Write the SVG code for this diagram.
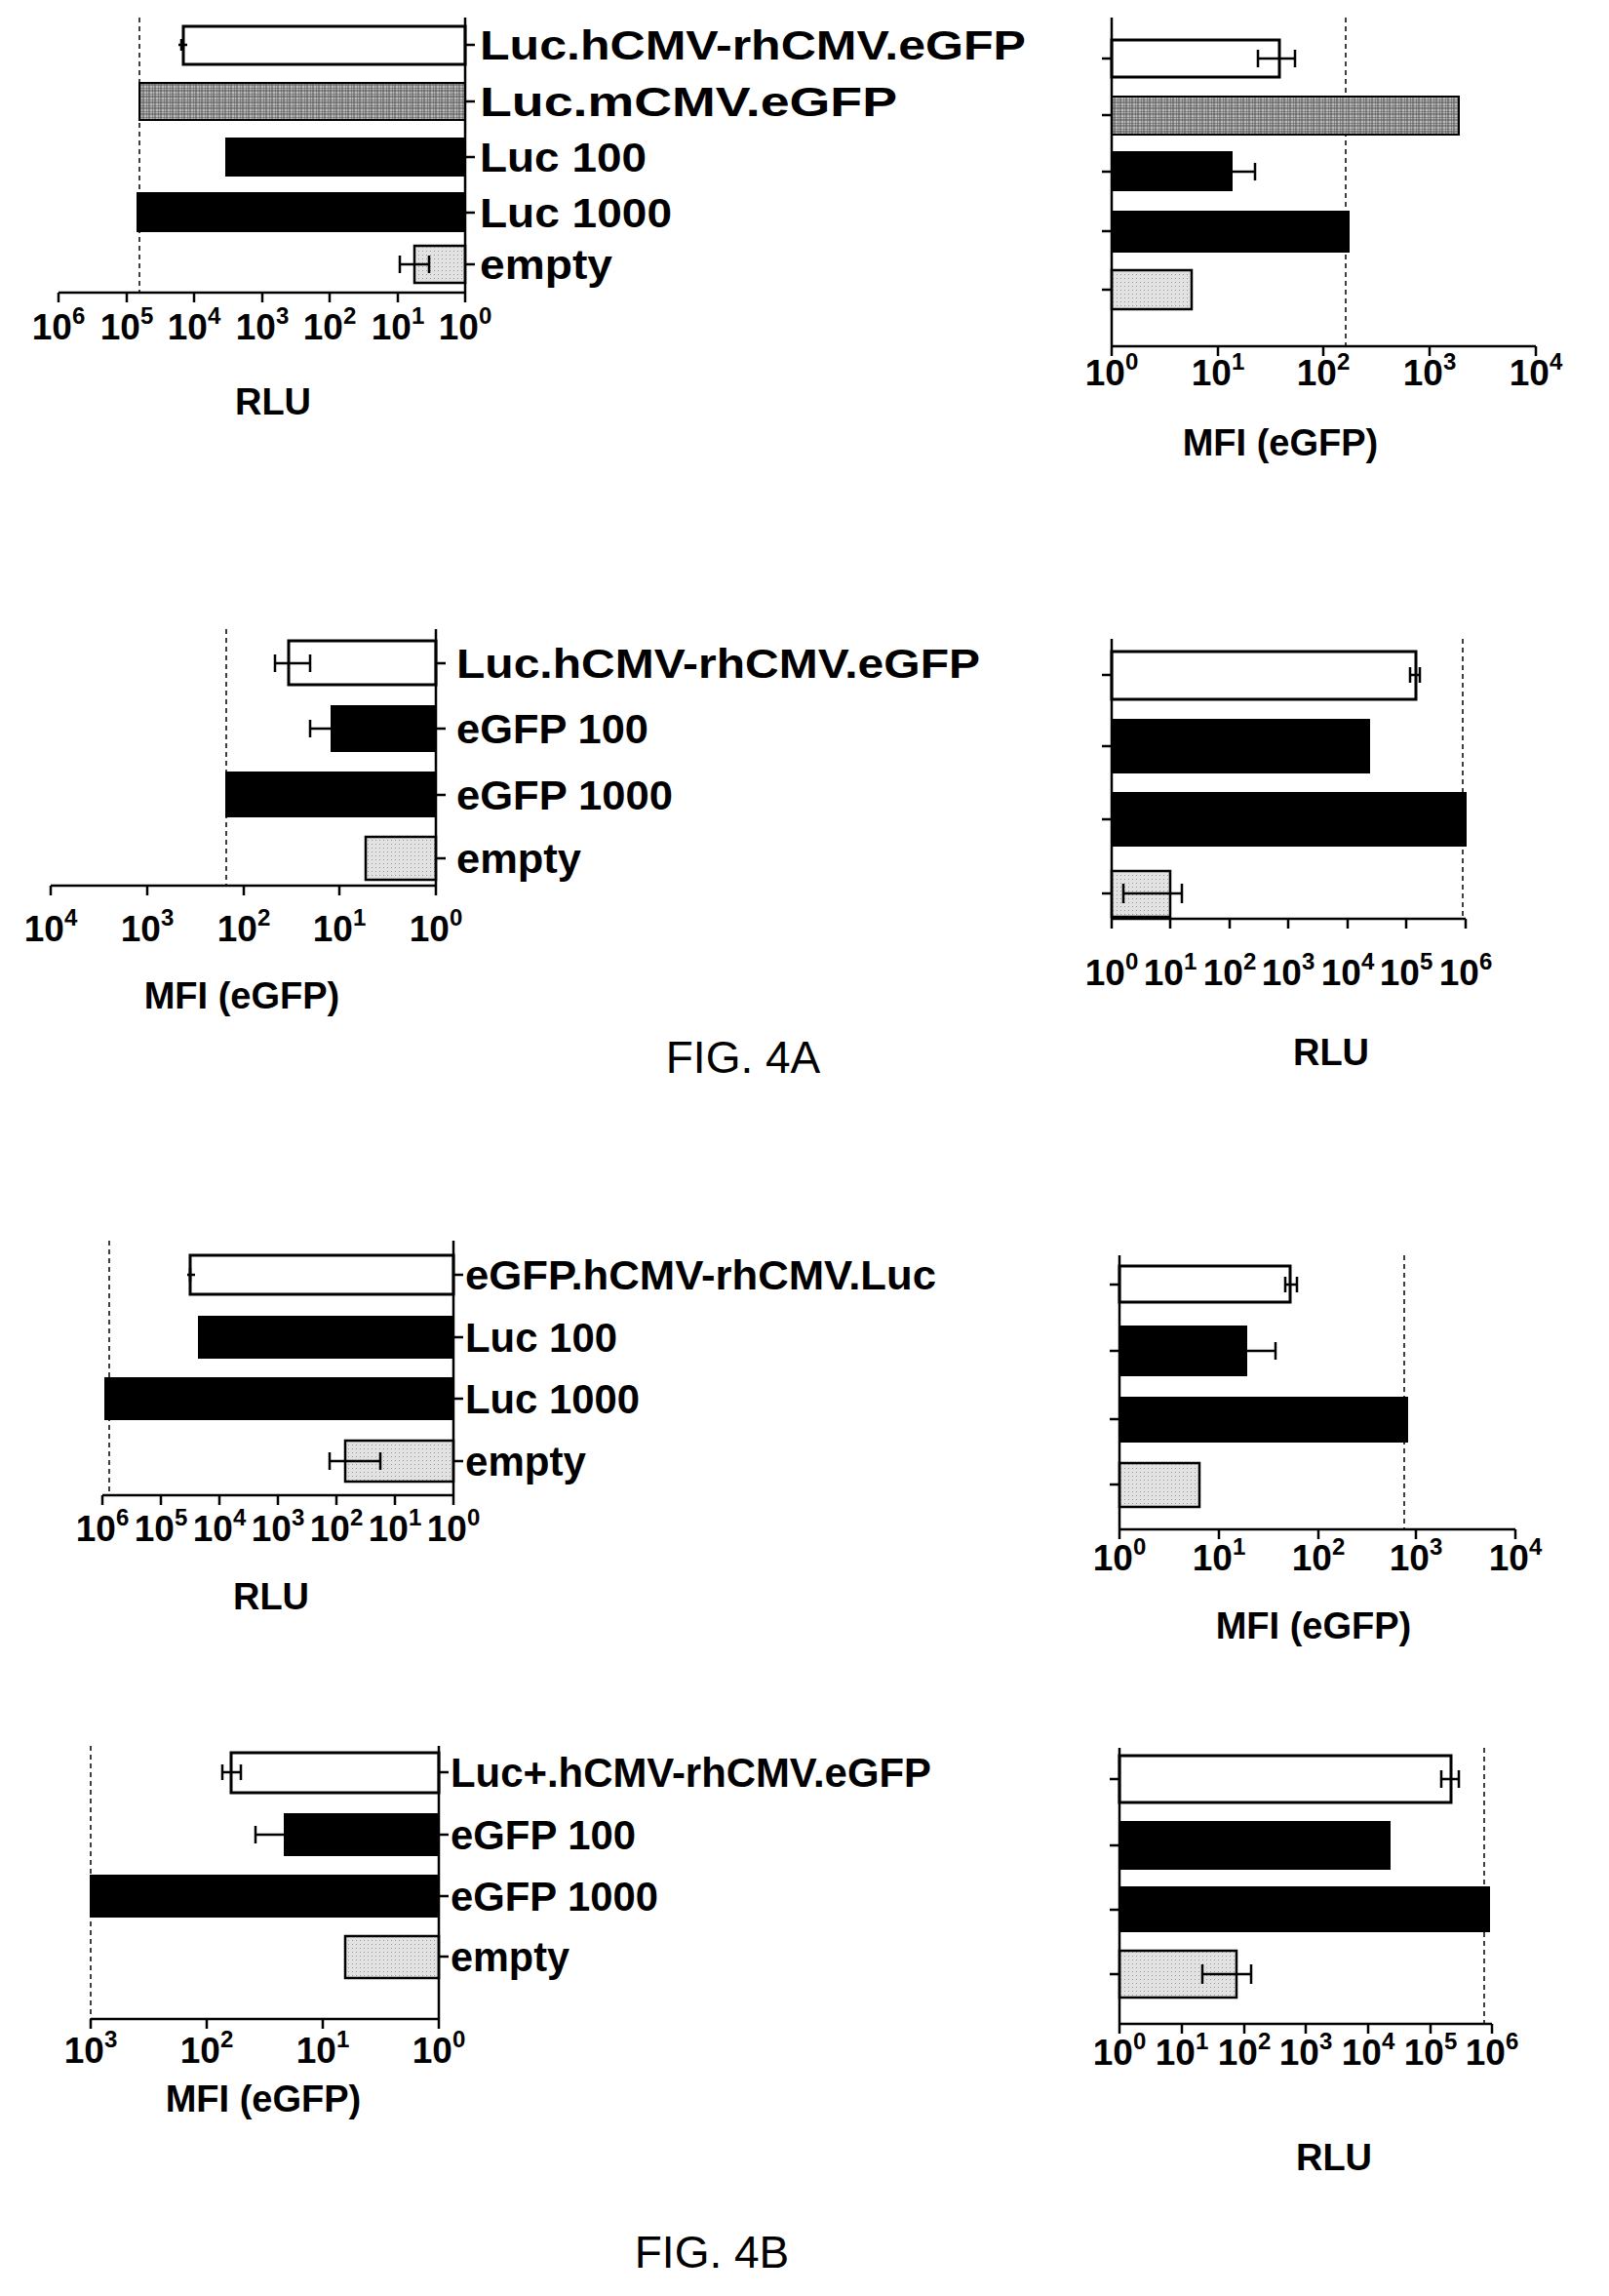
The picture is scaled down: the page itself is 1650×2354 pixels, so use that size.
<svg xmlns="http://www.w3.org/2000/svg" width="1650" height="2354" viewBox="0 0 1650 2354">
<defs>
<pattern id="hatch" width="6" height="6" patternUnits="userSpaceOnUse"><rect width="6" height="6" fill="#bbb"/><path d="M0 0H6M0 3H6M0 0V6M3 0V6" stroke="#555" stroke-width="1"/></pattern>
<pattern id="dots" width="4" height="4" patternUnits="userSpaceOnUse"><rect width="4" height="4" fill="#e2e2e2"/><rect x="1" y="1" width="1" height="1" fill="#999"/></pattern>
</defs>
<style>
.ax{stroke:#000;stroke-width:2.5;fill:none}
.dash{stroke:#000;stroke-width:1.5;stroke-dasharray:5 4;fill:none}
.w{fill:#fff;stroke:#000;stroke-width:3}
.b{fill:#000;stroke:#000;stroke-width:2}
.h{fill:url(#hatch);stroke:#000;stroke-width:2}
.g{fill:url(#dots);stroke:#000;stroke-width:2.5}
.err{stroke:#000;stroke-width:2.5;fill:none}
.lab{font-family:"Liberation Sans",Arial,sans-serif;font-weight:bold;font-size:42px}
.tk{font-family:"Liberation Sans",Arial,sans-serif;font-weight:bold;font-size:37px;text-anchor:middle}
.sup{font-size:24px}
.tt{font-family:"Liberation Sans",Arial,sans-serif;font-weight:bold;font-size:38px;text-anchor:middle}
.fig{font-family:"Liberation Sans",Arial,sans-serif;font-size:46px;text-anchor:middle}
</style>

<g id="p1">
<line class="dash" x1="143" y1="18" x2="143" y2="300"/>
<rect class="w" x="188" y="27" width="289" height="39"/><path class="err" d="M183 46H192M186 40V52"/>
<rect class="h" x="143" y="85" width="334" height="38"/>
<rect class="b" x="232" y="142" width="245" height="38"/>
<rect class="b" x="141" y="198" width="336" height="39"/>
<rect class="g" x="425" y="252" width="52" height="38"/><path class="err" d="M410 271H440M410 262V280M440 262V280"/>
<path class="ax" d="M477 18V300M60 300H477M477 46h10M477 104h10M477 161h10M477 218h10M477 271h10M60 300v10M130 300v10M199 300v10M269 300v10M338 300v10M408 300v10M477 300v10"/>
<text class="lab" x="492" y="61" textLength="560" lengthAdjust="spacingAndGlyphs">Luc.hCMV-rhCMV.eGFP</text>
<text class="lab" x="492" y="119" textLength="428" lengthAdjust="spacingAndGlyphs">Luc.mCMV.eGFP</text>
<text class="lab" x="492" y="176" textLength="171" lengthAdjust="spacingAndGlyphs">Luc 100</text>
<text class="lab" x="492" y="233" textLength="197" lengthAdjust="spacingAndGlyphs">Luc 1000</text>
<text class="lab" x="492" y="286" textLength="136" lengthAdjust="spacingAndGlyphs">empty</text>
<text class="tk" x="60" y="348">10<tspan class="sup" dy="-16">6</tspan></text>
<text class="tk" x="130" y="348">10<tspan class="sup" dy="-16">5</tspan></text>
<text class="tk" x="199" y="348">10<tspan class="sup" dy="-16">4</tspan></text>
<text class="tk" x="269" y="348">10<tspan class="sup" dy="-16">3</tspan></text>
<text class="tk" x="338" y="348">10<tspan class="sup" dy="-16">2</tspan></text>
<text class="tk" x="408" y="348">10<tspan class="sup" dy="-16">1</tspan></text>
<text class="tk" x="477" y="348">10<tspan class="sup" dy="-16">0</tspan></text>
<text class="tt" x="280" y="425">RLU</text>
</g>

<g id="p2">
<line class="dash" x1="1380" y1="18" x2="1380" y2="355"/>
<rect class="w" x="1140" y="41" width="172" height="38"/><path class="err" d="M1290 60H1328M1290 51V69M1328 51V69"/>
<rect class="h" x="1140" y="99" width="356" height="39"/>
<rect class="b" x="1140" y="156" width="123" height="39"/><path class="err" d="M1263 176H1287M1287 167V185"/>
<rect class="b" x="1140" y="217" width="243" height="41"/>
<rect class="g" x="1140" y="277" width="82" height="40"/>
<path class="ax" d="M1140 18V355H1575M1130 60h10M1130 118h10M1130 176h10M1130 237h10M1130 297h10M1140 355v10M1249 355v10M1357 355v10M1466 355v10M1575 355v10"/>
<text class="tk" x="1140" y="395">10<tspan class="sup" dy="-16">0</tspan></text>
<text class="tk" x="1249" y="395">10<tspan class="sup" dy="-16">1</tspan></text>
<text class="tk" x="1357" y="395">10<tspan class="sup" dy="-16">2</tspan></text>
<text class="tk" x="1466" y="395">10<tspan class="sup" dy="-16">3</tspan></text>
<text class="tk" x="1575" y="395">10<tspan class="sup" dy="-16">4</tspan></text>
<text class="tt" x="1313" y="467">MFI (eGFP)</text>
</g>

<g id="p3">
<line class="dash" x1="232" y1="645" x2="232" y2="908"/>
<rect class="w" x="296" y="657" width="151" height="45"/><path class="err" d="M282 680H318M282 671V689M318 671V689"/>
<rect class="b" x="340" y="724" width="107" height="46"/><path class="err" d="M318 747H340M318 738V756"/>
<rect class="b" x="232" y="792" width="215" height="45"/>
<rect class="g" x="375" y="858" width="72" height="44"/>
<path class="ax" d="M447 645V908M52 908H447M447 680h10M447 747h10M447 815h10M447 880h10M52 908v10M151 908v10M250 908v10M348 908v10M447 908v10"/>
<text class="lab" x="468" y="695" textLength="537" lengthAdjust="spacingAndGlyphs">Luc.hCMV-rhCMV.eGFP</text>
<text class="lab" x="468" y="762" textLength="197" lengthAdjust="spacingAndGlyphs">eGFP 100</text>
<text class="lab" x="468" y="830" textLength="222" lengthAdjust="spacingAndGlyphs">eGFP 1000</text>
<text class="lab" x="468" y="895" textLength="128" lengthAdjust="spacingAndGlyphs">empty</text>
<text class="tk" x="52" y="965">10<tspan class="sup" dy="-16">4</tspan></text>
<text class="tk" x="151" y="965">10<tspan class="sup" dy="-16">3</tspan></text>
<text class="tk" x="250" y="965">10<tspan class="sup" dy="-16">2</tspan></text>
<text class="tk" x="348" y="965">10<tspan class="sup" dy="-16">1</tspan></text>
<text class="tk" x="447" y="965">10<tspan class="sup" dy="-16">0</tspan></text>
<text class="tt" x="248" y="1034">MFI (eGFP)</text>
</g>

<g id="p4">
<line class="dash" x1="1500" y1="655" x2="1500" y2="942"/>
<rect class="w" x="1140" y="668" width="312" height="49"/><path class="err" d="M1446 692H1456M1446 684V700M1456 684V700"/>
<rect class="b" x="1140" y="738" width="264" height="54"/>
<rect class="b" x="1140" y="813" width="363" height="54"/>
<rect class="g" x="1140" y="893" width="60" height="47"/><path class="err" d="M1152 916H1212M1152 906V926M1212 906V926"/>
<path class="ax" d="M1140 655V942H1503M1130 692h10M1130 765h10M1130 840h10M1130 916h10M1140 942v10M1200 942v10M1261 942v10M1321 942v10M1382 942v10M1442 942v10M1503 942v10"/>
<text class="tk" x="1140" y="1010">10<tspan class="sup" dy="-16">0</tspan></text>
<text class="tk" x="1200" y="1010">10<tspan class="sup" dy="-16">1</tspan></text>
<text class="tk" x="1261" y="1010">10<tspan class="sup" dy="-16">2</tspan></text>
<text class="tk" x="1321" y="1010">10<tspan class="sup" dy="-16">3</tspan></text>
<text class="tk" x="1382" y="1010">10<tspan class="sup" dy="-16">4</tspan></text>
<text class="tk" x="1442" y="1010">10<tspan class="sup" dy="-16">5</tspan></text>
<text class="tk" x="1503" y="1010">10<tspan class="sup" dy="-16">6</tspan></text>
<text class="tt" x="1365" y="1092">RLU</text>
</g>

<text id="fig4a" class="fig" x="762" y="1100">FIG. 4A</text>

<g id="p5">
<line class="dash" x1="112" y1="1272" x2="112" y2="1533"/>
<rect class="w" x="195" y="1287" width="270" height="40"/><path class="err" d="M192 1307H200M195 1300V1314"/>
<rect class="b" x="204" y="1350" width="261" height="42"/>
<rect class="b" x="108" y="1413" width="357" height="42"/>
<rect class="g" x="354" y="1477" width="111" height="42"/><path class="err" d="M338 1498H390M338 1489V1507M390 1489V1507"/>
<path class="ax" d="M465 1272V1533M105 1533H465M465 1307h10M465 1371h10M465 1434h10M465 1498h10M105 1533v10M165 1533v10M225 1533v10M285 1533v10M345 1533v10M405 1533v10M465 1533v10"/>
<text class="lab" x="477" y="1322" textLength="483" lengthAdjust="spacingAndGlyphs">eGFP.hCMV-rhCMV.Luc</text>
<text class="lab" x="477" y="1386" textLength="156" lengthAdjust="spacingAndGlyphs">Luc 100</text>
<text class="lab" x="477" y="1449" textLength="179" lengthAdjust="spacingAndGlyphs">Luc 1000</text>
<text class="lab" x="477" y="1513" textLength="124" lengthAdjust="spacingAndGlyphs">empty</text>
<text class="tk" x="105" y="1580">10<tspan class="sup" dy="-16">6</tspan></text>
<text class="tk" x="165" y="1580">10<tspan class="sup" dy="-16">5</tspan></text>
<text class="tk" x="225" y="1580">10<tspan class="sup" dy="-16">4</tspan></text>
<text class="tk" x="285" y="1580">10<tspan class="sup" dy="-16">3</tspan></text>
<text class="tk" x="345" y="1580">10<tspan class="sup" dy="-16">2</tspan></text>
<text class="tk" x="405" y="1580">10<tspan class="sup" dy="-16">1</tspan></text>
<text class="tk" x="465" y="1580">10<tspan class="sup" dy="-16">0</tspan></text>
<text class="tt" x="278" y="1650">RLU</text>
</g>

<g id="p6">
<line class="dash" x1="1440" y1="1287" x2="1440" y2="1568"/>
<rect class="w" x="1148" y="1298" width="175" height="37"/><path class="err" d="M1318 1317H1330M1318 1309V1325M1330 1309V1325"/>
<rect class="b" x="1148" y="1360" width="130" height="50"/><path class="err" d="M1278 1385H1308M1308 1376V1394"/>
<rect class="b" x="1148" y="1433" width="295" height="45"/>
<rect class="g" x="1148" y="1500" width="82" height="45"/>
<path class="ax" d="M1148 1287V1568H1554M1138 1317h10M1138 1385h10M1138 1455h10M1138 1522h10M1148 1568v10M1250 1568v10M1352 1568v10M1452 1568v10M1554 1568v10"/>
<text class="tk" x="1148" y="1610">10<tspan class="sup" dy="-16">0</tspan></text>
<text class="tk" x="1250" y="1610">10<tspan class="sup" dy="-16">1</tspan></text>
<text class="tk" x="1352" y="1610">10<tspan class="sup" dy="-16">2</tspan></text>
<text class="tk" x="1452" y="1610">10<tspan class="sup" dy="-16">3</tspan></text>
<text class="tk" x="1554" y="1610">10<tspan class="sup" dy="-16">4</tspan></text>
<text class="tt" x="1347" y="1680">MFI (eGFP)</text>
</g>

<g id="p7">
<line class="dash" x1="93" y1="1790" x2="93" y2="2070"/>
<rect class="w" x="237" y="1797" width="213" height="41"/><path class="err" d="M228 1817H247M228 1809V1825M247 1809V1825"/>
<rect class="b" x="292" y="1860" width="158" height="42"/><path class="err" d="M262 1881H292M262 1872V1890"/>
<rect class="b" x="93" y="1923" width="357" height="42"/>
<rect class="g" x="354" y="1985" width="96" height="43"/>
<path class="ax" d="M450 1790V2070M93 2070H450M450 1817h10M450 1881h10M450 1944h10M450 2006h10M93 2070v10M212 2070v10M331 2070v10M450 2070v10"/>
<text class="lab" x="462" y="1832" textLength="493" lengthAdjust="spacingAndGlyphs">Luc+.hCMV-rhCMV.eGFP</text>
<text class="lab" x="462" y="1896" textLength="190" lengthAdjust="spacingAndGlyphs">eGFP 100</text>
<text class="lab" x="462" y="1959" textLength="213" lengthAdjust="spacingAndGlyphs">eGFP 1000</text>
<text class="lab" x="462" y="2021" textLength="122" lengthAdjust="spacingAndGlyphs">empty</text>
<text class="tk" x="93" y="2115">10<tspan class="sup" dy="-16">3</tspan></text>
<text class="tk" x="212" y="2115">10<tspan class="sup" dy="-16">2</tspan></text>
<text class="tk" x="331" y="2115">10<tspan class="sup" dy="-16">1</tspan></text>
<text class="tk" x="450" y="2115">10<tspan class="sup" dy="-16">0</tspan></text>
<text class="tt" x="270" y="2165">MFI (eGFP)</text>
</g>

<g id="p8">
<line class="dash" x1="1522" y1="1792" x2="1522" y2="2075"/>
<rect class="w" x="1148" y="1800" width="340" height="48"/><path class="err" d="M1478 1824H1496M1478 1815V1833M1496 1815V1833"/>
<rect class="b" x="1148" y="1868" width="277" height="48"/>
<rect class="b" x="1148" y="1935" width="379" height="45"/>
<rect class="g" x="1148" y="2000" width="120" height="48"/><path class="err" d="M1233 2024H1283M1233 2014V2034M1283 2014V2034"/>
<path class="ax" d="M1148 1792V2075H1530M1138 1824h10M1138 1892h10M1138 1958h10M1138 2024h10M1148 2075v10M1212 2075v10M1276 2075v10M1339 2075v10M1403 2075v10M1467 2075v10M1530 2075v10"/>
<text class="tk" x="1148" y="2117">10<tspan class="sup" dy="-16">0</tspan></text>
<text class="tk" x="1212" y="2117">10<tspan class="sup" dy="-16">1</tspan></text>
<text class="tk" x="1276" y="2117">10<tspan class="sup" dy="-16">2</tspan></text>
<text class="tk" x="1339" y="2117">10<tspan class="sup" dy="-16">3</tspan></text>
<text class="tk" x="1403" y="2117">10<tspan class="sup" dy="-16">4</tspan></text>
<text class="tk" x="1467" y="2117">10<tspan class="sup" dy="-16">5</tspan></text>
<text class="tk" x="1530" y="2117">10<tspan class="sup" dy="-16">6</tspan></text>
<text class="tt" x="1368" y="2225">RLU</text>
</g>

<text id="fig4b" class="fig" x="730" y="2325">FIG. 4B</text>
</svg>
